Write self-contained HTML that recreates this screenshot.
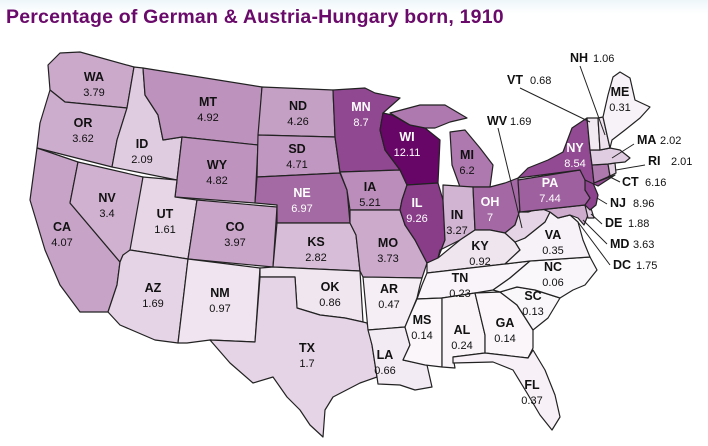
<!DOCTYPE html>
<html><head><meta charset="utf-8"><style>
body{margin:0;width:708px;height:446px;overflow:hidden;background:#fff;font-family:"Liberation Sans",sans-serif}
#title{position:absolute;left:6px;top:6px;font-size:19.5px;font-weight:bold;color:#6a0a6a;white-space:nowrap;letter-spacing:0.2px}
#bg{position:absolute;left:0;top:0;width:708px;height:14px;background:linear-gradient(#eef6fa,#fff)}
svg{position:absolute;left:0;top:0}
</style></head><body>
<div id="bg"></div>
<div id="title">Percentage of German &amp; Austria-Hungary born, 1910</div>
<svg id="map" width="708" height="446"></svg>
<script>
const states=["WA","OR","CA","NV","ID","MT","WY","UT","CO","AZ","NM","ND","SD","NE","KS","OK","TX","MN","IA","MO","AR","LA","WI","IL","MI","IN","OH","KY","TN","MS","AL","GA","FL","SC","NC","VA","WV","MD","DE","PA","NJ","NY","CT","RI","MA","VT","NH","ME"];
const values=[3.79,3.62,4.07,3.4,2.09,4.92,4.82,1.61,3.97,1.69,0.97,4.26,4.71,6.97,2.82,0.86,1.7,8.7,5.21,3.73,0.47,0.66,12.11,9.26,6.2,3.27,7,0.92,0.23,0.14,0.24,0.14,0.37,0.13,0.06,0.35,1.69,3.63,1.88,7.44,8.96,8.54,6.16,2.01,2.02,0.68,1.06,0.31];
const valueLabels=["3.79","3.62","4.07","3.4","2.09","4.92","4.82","1.61","3.97","1.69","0.97","4.26","4.71","6.97","2.82","0.86","1.7","8.7","5.21","3.73","0.47","0.66","12.11","9.26","6.2","3.27","7","0.92","0.23","0.14","0.24","0.14","0.37","0.13","0.06","0.35","1.69","3.63","1.88","7.44","8.96","8.54","6.16","2.01","2.02","0.68","1.06","0.31"];
const dcLabel=["DC","1.75"];

const shapes={
WA:"60,53 80,52 134,67 127,108 65,102 50,90 48,65",
OR:"50,90 65,102 127,108 117,140 112,167 37,148 40,123",
CA:"37,148 78,162 70,203 120,262 117,285 112,300 108,312 80,312 60,285 45,250 30,200",
NV:"78,162 143,177 133,250 123,255 120,262 70,203",
ID:"134,67 143,68 145,95 158,115 163,140 182,137 177,180 112,167 117,140 127,108",
MT:"143,68 262,87 258,145 182,137 163,140 158,115 145,95",
WY:"182,137 258,145 255,203 175,197",
UT:"143,177 177,180 175,197 197,200 188,259 130,250",
CO:"197,200 277,207 273,267 188,259",
AZ:"130,250 188,259 178,343 155,340 120,325 108,312 112,300 117,285 120,262 123,255",
NM:"188,259 260,268 255,342 210,340 187,343 178,343",
ND:"262,87 333,90 335,137 258,135",
SD:"258,135 335,137 340,173 257,177",
NE:"257,177 340,173 347,190 350,223 277,223 277,205 255,203",
KS:"277,223 350,223 356,235 360,271 273,267",
OK:"260,268 273,267 360,271 363,322 345,318 320,315 297,308 295,277 260,277",
TX:"260,277 295,277 297,308 320,315 345,318 363,322 367,323 372,345 377,377 360,383 333,397 325,410 323,437 310,425 300,410 287,397 273,377 253,383 230,363 210,340 255,342",
MN:"333,90 365,88 375,93 400,98 383,113 380,130 385,150 400,170 340,172 335,137",
IA:"340,172 400,170 407,185 402,200 400,210 350,210 347,190",
MO:"350,210 400,210 405,225 415,240 427,263 422,278 363,277 360,271 356,235 350,223",
AR:"363,277 422,278 420,285 417,298 410,315 405,327 368,330",
LA:"368,330 405,327 410,345 403,360 427,365 432,387 415,390 400,385 378,384 377,377 372,345",
WI:"383,113 392,115 410,125 425,128 440,140 438,183 407,185 400,170 385,150 380,130",
IL:"407,185 438,183 443,200 445,240 438,258 427,263 415,240 405,225 400,210 402,200",
MI:"450,132 465,130 480,148 493,165 490,187 460,187 452,165",
MIU:"390,113 420,105 445,105 467,118 450,122 435,128 425,128 410,125",
IN:"443,185 473,187 475,230 460,240 440,250 438,258 445,240 443,200",
OH:"473,187 490,187 505,183 518,178 520,210 515,225 505,233 490,230 475,230",
KY:"427,263 438,258 460,240 475,230 490,230 505,233 515,242 520,250 505,264 427,273",
TN:"427,273 505,264 530,261 510,278 493,290 475,293 442,298 417,299 422,285",
MS:"417,299 442,298 442,367 425,365 403,360 410,345 405,327 410,315",
AL:"442,298 475,293 485,335 485,353 453,357 455,368 442,367",
GA:"475,293 500,292 517,305 533,330 533,348 528,358 485,353 485,335",
FL:"453,357 485,353 528,358 533,350 545,370 555,395 560,417 552,430 540,415 527,393 513,370 493,362 453,363",
SC:"500,292 517,287 535,290 560,298 548,318 533,330 517,305",
NC:"530,261 590,257 597,270 585,285 573,290 560,298 535,290 517,287 500,292 493,290 510,278",
VA:"515,242 525,238 535,230 545,222 550,212 558,218 570,215 578,222 583,240 590,257 530,261 505,264 520,250",
WV:"520,210 528,212 540,208 550,212 545,222 535,230 525,238 515,242 505,233 515,225",
MD:"520,212 585,205 588,215 584,225 578,218 570,215 558,218 550,212 540,208 528,212",
DE:"585,205 590,205 594,218 588,218",
PA:"518,180 580,170 588,178 585,190 593,198 585,205 520,212",
NJ:"585,180 593,183 598,195 596,205 590,210 585,205 590,198 585,190",
NY:"518,178 528,168 548,160 563,152 572,128 587,118 590,150 592,165 594,183 615,175 598,186 585,180 580,170",
CT:"592,165 608,164 610,176 594,183",
RI:"608,164 615,163 616,173 610,176",
MA:"590,150 600,150 610,148 620,150 630,158 625,162 615,163 608,164 592,165",
VT:"587,118 598,118 600,150 590,150",
NH:"598,118 603,117 610,148 600,150",
ME:"603,117 608,95 613,77 620,72 630,78 635,100 650,107 640,118 625,130 612,140 610,148"
};
const labelPos={WA:[94,81],OR:[83,127],CA:[62,231],NV:[107,202],ID:[142,148],MT:[208,106],WY:[217,169],UT:[165,218],CO:[235,231],AZ:[153,292],NM:[220,297],ND:[298,110],SD:[297,153],NE:[302,197],KS:[316,246],OK:[330,291],TX:[307,352],MN:[361,111],IA:[370,191],MO:[388,247],AR:[389,293],LA:[385,359],WI:[407,141],IL:[417,207],MI:[467,159],IN:[457,219],OH:[490,206],KY:[480,250],TN:[460,282],MS:[422,324],AL:[462,334],GA:[505,327],FL:[532,389],SC:[533,300],NC:[553,271],VA:[553,239],NY:[575,152],PA:[550,187],ME:[620,96]};
const sideLabels={WV:[487,125,498,128,522,228],VT:[507,84,520,88,590,122],NH:[570,62,580,66,605,135],MA:[637,144,634,144,612,158],RI:[648,165,645,165,616,170],CT:[622,186,620,182,608,176],NJ:[610,207,607,204,597,198],DE:[605,227,602,224,591,214],MD:[610,248,607,244,583,220],DC:[613,269,610,265,578,222]};

function color(v){const t=Math.min(v/12.11,1);const c0=[252,250,252],c1=[104,6,104];
 const c=c0.map((a,i)=>Math.round(a+(c1[i]-a)*Math.pow(t,0.95)));return `rgb(${c})`;}
const NS="http://www.w3.org/2000/svg";const svg=document.getElementById('map');
function mk(t,a){const e=document.createElementNS(NS,t);for(const k in a)e.setAttribute(k,a[k]);return e;}
const gS=mk('g',{});svg.appendChild(gS);
states.forEach((s,i)=>{
 const keys=s==="MI"?["MI","MIU"]:[s];
 keys.forEach(k=>{const p=mk('polygon',{points:shapes[k],fill:color(values[i]),stroke:'#222','stroke-width':1.2,'stroke-linejoin':'round'});
 
 
 gS.appendChild(p);});
});
const gLines=mk('g',{});svg.appendChild(gLines);
const gL=mk('g',{});svg.appendChild(gL);
function txt(x,y,s,opt){const t=mk('text',Object.assign({x:x,y:y,'font-family':'Liberation Sans, sans-serif'},opt));t.textContent=s;gL.appendChild(t);return t;}
function side(code,val,x,y,x1,y1,x2,y2){
 const l=mk('line',{x1:x1,y1:y1,x2:x2,y2:y2,stroke:'#222','stroke-width':1});
 
 
 gLines.appendChild(l);
 const a=txt(x,y,code,{'font-size':12.5,'font-weight':'bold',fill:'#111'});
 
 
 const b=txt(x+code.length*10.5+2,y,val,{'font-size':11,fill:'#111'});
 
 
}
states.forEach((s,i)=>{
 const v=values[i];const light=v>6.5?'#fff':'#111';
 if(labelPos[s]){const [x,y]=labelPos[s];
  const a=txt(x,y,s,{'font-size':12.5,'font-weight':'bold','text-anchor':'middle',fill:light});
  
  
  const b=txt(x,y+15,valueLabels[i],{'font-size':11,'text-anchor':'middle',fill:light});
  
  
 } else if(sideLabels[s]){const q=sideLabels[s];side(s,valueLabels[i],q[0],q[1],q[2],q[3],q[4],q[5]);}
});
{const q=sideLabels.DC;side(dcLabel[0],dcLabel[1],q[0],q[1],q[2],q[3],q[4],q[5]);}
</script>
</body></html>
